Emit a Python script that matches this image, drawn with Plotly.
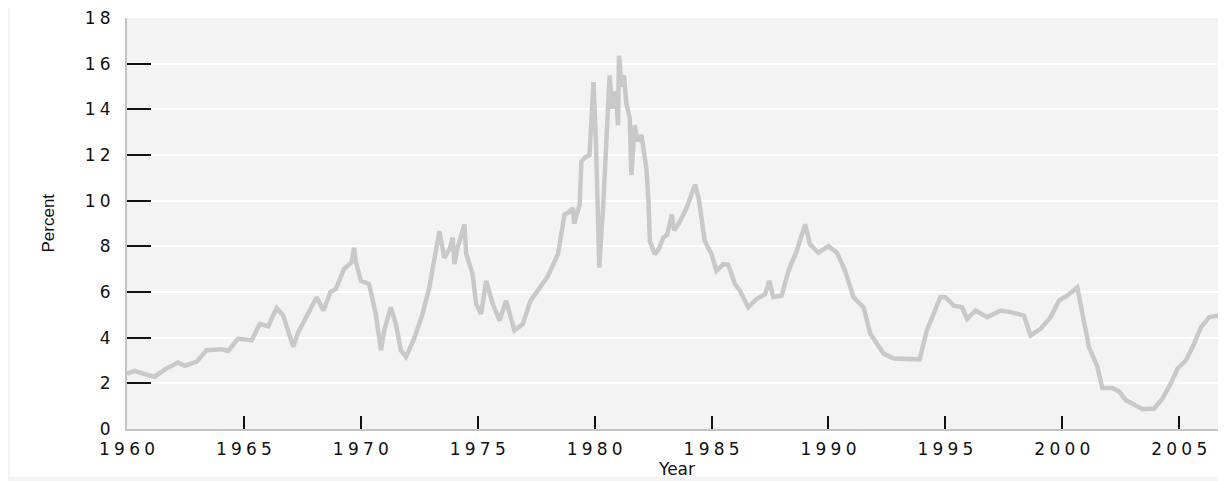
import plotly.graph_objects as go

# ---- data ----
year = [1960.0, 1960.33, 1960.75, 1961.18, 1961.61, 1962.18, 1962.47, 1962.97, 1963.4, 1964.04,
        1964.33, 1964.75, 1965.33, 1965.68, 1966.04, 1966.4, 1966.68, 1967.11, 1967.33, 1967.68,
        1968.11, 1968.4, 1968.7, 1968.93, 1969.28, 1969.6, 1969.71, 1969.78, 1970.0, 1970.35,
        1970.64, 1970.86, 1971.0, 1971.28, 1971.5, 1971.71, 1971.93, 1972.28, 1972.64, 1972.93,
        1973.14, 1973.36, 1973.57, 1973.8, 1973.93, 1974.0, 1974.14, 1974.43, 1974.5, 1974.78,
        1974.93, 1975.14, 1975.36, 1975.64, 1975.93, 1976.21, 1976.57, 1976.93, 1977.25, 1977.6,
        1978.0, 1978.43, 1978.57, 1978.71, 1978.9, 1979.07, 1979.12, 1979.36, 1979.43, 1979.6,
        1979.78, 1979.86, 1979.95, 1980.05, 1980.2, 1980.28, 1980.36, 1980.5, 1980.58, 1980.64,
        1980.75, 1980.9, 1981.0, 1981.04, 1981.15, 1981.25, 1981.35, 1981.5, 1981.57, 1981.65,
        1981.71, 1981.85, 1982.0, 1982.21, 1982.3, 1982.36, 1982.57, 1982.75, 1982.93, 1983.1,
        1983.3, 1983.4, 1983.6, 1983.93, 1984.2, 1984.29, 1984.45, 1984.6, 1984.71, 1985.0,
        1985.21, 1985.5, 1985.71, 1986.0, 1986.21, 1986.57, 1986.93, 1987.29, 1987.47, 1987.64,
        1988.0, 1988.29, 1988.64, 1989.0, 1989.21, 1989.57, 1990.0, 1990.36, 1990.71, 1991.07,
        1991.5, 1991.79, 1992.07, 1992.36, 1992.79, 1993.36, 1993.9, 1994.2, 1994.5, 1994.78,
        1995.0, 1995.36, 1995.71, 1995.93, 1996.29, 1996.79, 1997.36, 1997.79, 1998.36, 1998.64,
        1999.07, 1999.5, 1999.86, 2000.21, 2000.64, 2000.93, 2001.14, 2001.5, 2001.71, 2002.14,
        2002.43, 2002.71, 2003.07, 2003.43, 2003.93, 2004.29, 2004.64, 2004.93, 2005.29, 2005.64,
        2005.93, 2006.29, 2006.71, 2007.0]
rate = [2.43, 2.55, 2.4, 2.29, 2.6, 2.91, 2.77, 2.94, 3.45, 3.49,
        3.42, 3.96, 3.88, 4.6, 4.5, 5.3, 4.97, 3.6, 4.25, 4.97,
        5.77, 5.19, 6.0, 6.13, 7.0, 7.3, 7.94, 7.36, 6.49, 6.35,
        5.04, 3.45, 4.32, 5.33, 4.6, 3.45, 3.16, 3.96, 5.04, 6.2,
        7.5, 8.67, 7.5, 7.9, 8.38, 7.22, 7.94, 8.96, 7.7, 6.78,
        5.48, 5.04, 6.49, 5.48, 4.75, 5.62, 4.32, 4.6, 5.6, 6.1,
        6.7, 7.65, 8.53, 9.39, 9.5, 9.68, 9.0, 9.83, 11.7, 11.9,
        12.0, 14.03, 15.19, 12.7, 7.07, 8.5, 9.68, 12.58, 14.5, 15.48,
        14.03, 14.8, 13.3, 16.35, 15.0, 15.5, 14.3, 13.6, 11.13, 12.5,
        13.3, 12.6, 12.87, 11.42, 10.0, 8.23, 7.65, 7.9, 8.38, 8.5,
        9.39, 8.7, 9.0, 9.68, 10.4, 10.7, 10.1, 9.0, 8.23, 7.65,
        6.93, 7.22, 7.2, 6.35, 6.06, 5.33, 5.7, 5.9, 6.49, 5.77,
        5.84, 6.93, 7.8, 8.96, 8.09, 7.72, 8.01, 7.72, 6.93, 5.77,
        5.33, 4.17, 3.74, 3.3, 3.09, 3.09, 3.05, 4.3, 5.04, 5.77,
        5.77, 5.4, 5.33, 4.82, 5.19, 4.9, 5.19, 5.12, 4.97, 4.1,
        4.39, 4.9, 5.62, 5.84, 6.2, 4.75, 3.59, 2.72, 1.8, 1.8,
        1.64, 1.27, 1.06, 0.87, 0.9, 1.35, 2.0, 2.65, 3.01, 3.74,
        4.46, 4.9, 4.97, 5.0]

y_ticks = [0, 2, 4, 6, 8, 10, 12, 14, 16, 18]
y_tick_marks = [2, 4, 6, 8, 10, 12, 14, 16]
x_ticks = [1960, 1965, 1970, 1975, 1980, 1985, 1990, 1995, 2000, 2005]
x_tick_marks = [1965, 1970, 1975, 1980, 1985, 1990, 1995, 2000, 2005]
x_title = "Year"
y_title = "Percent"


def spaced(v):
    return "\u2005".join(str(v))


TICK_FONT = dict(family="DejaVu Sans", size=17, color="#111111")

# page body has an 8px margin: figure is offset by (8, 8) in the window
W, H = 1218, 473
ML, MT, MB = 119, 7, 52
PW, PH = W - ML, H - MT - MB  # plot area size in px


def px_x(p):  # window pixel -> paper x
    return (p - 8 - ML) / PW


def px_y(p):  # window pixel -> paper y
    return (8 + MT + PH - p) / PH


fig = go.Figure()
fig.add_trace(go.Scatter(x=year, y=rate, mode="lines",
                         line=dict(color="#c9c9c9", width=4.5),
                         hoverinfo="skip", showlegend=False))
fig.add_trace(go.Scatter(x=[], y=[], xaxis="x2", yaxis="y2",
                         hoverinfo="skip", showlegend=False))

fig.update_layout(
    width=W, height=H,
    margin=dict(l=ML, r=0, t=MT, b=MB, pad=0),
    paper_bgcolor="white",
    plot_bgcolor="#f3f3f3",
    showlegend=False,
    xaxis=dict(range=[1960, 2007], tickvals=x_ticks,
               ticktext=[spaced(v) for v in x_ticks],
               ticks="", showgrid=False, zeroline=False,
               showline=True, linecolor="#c4c4c4", linewidth=2,
               tickfont=TICK_FONT, ticklabelstandoff=4,
               ticklabeloverflow="allow"),
    yaxis=dict(range=[0, 18], tickvals=y_ticks,
               ticktext=[spaced(v) for v in y_ticks],
               ticks="", showgrid=True, gridcolor="white", gridwidth=1.5,
               zeroline=False, showline=True, linecolor="#c4c4c4", linewidth=2,
               tickfont=TICK_FONT, ticklabelstandoff=11,
               ticklabeloverflow="allow"),
    xaxis2=dict(range=[1960, 2007], overlaying="x", anchor="y",
                side="bottom", tickvals=x_tick_marks, ticks="inside",
                ticklen=13, tickwidth=2, tickcolor="#111111",
                showticklabels=False, showgrid=False, zeroline=False,
                showline=False),
    yaxis2=dict(range=[0, 18], overlaying="y", anchor="x", side="left",
                tickvals=y_tick_marks, ticks="inside", ticklen=24,
                tickwidth=2, tickcolor="#111111", showticklabels=False,
                showgrid=False, zeroline=False, showline=False),
    annotations=[
        dict(text=x_title, xref="paper", yref="paper", x=0.5, y=px_y(469),
             xanchor="center", yanchor="middle", showarrow=False,
             font=dict(family="DejaVu Sans", size=17, color="#111111")),
        dict(text=y_title, xref="paper", yref="paper", x=px_x(48), y=0.5,
             xanchor="center", yanchor="middle", showarrow=False,
             textangle=-90,
             font=dict(family="Liberation Sans Narrow, Liberation Sans", size=17,
                       color="#111111")),
    ],
    shapes=[
        dict(type="rect", xref="paper", yref="paper", x0=-0.2, x1=1.01,
             y0=px_y(4), y1=1.1, fillcolor="#f4f4f4", line=dict(width=0),
             layer="below"),
        dict(type="rect", xref="paper", yref="paper", x0=-0.2, x1=px_x(10),
             y0=-0.2, y1=1.1, fillcolor="#f4f4f4", line=dict(width=0),
             layer="below"),
        dict(type="rect", xref="paper", yref="paper", x0=-0.2, x1=1.01,
             y0=-0.2, y1=px_y(477), fillcolor="#f4f4f4", line=dict(width=0),
             layer="below"),
    ],
)

fig.write_html("out.html")
